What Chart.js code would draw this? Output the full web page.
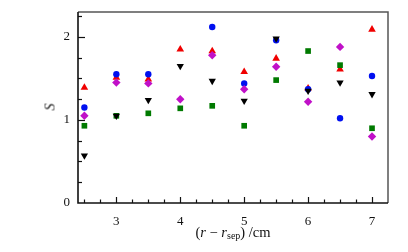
<!DOCTYPE html>
<html>
<head>
<meta charset="utf-8">
<script src="https://cdn.jsdelivr.net/npm/chart.js@4"></script>
<style>
    html, body { margin: 0; padding: 0; background: #fff; }
    #wrap { position: relative; width: 408px; height: 252px; }
    #chart { position: absolute; left: 0; top: 0; }
    .axis-title { position: absolute; font-family: 'Liberation Serif', 'DejaVu Serif', serif; color: #111; white-space: nowrap; }
    #xTitle { left: 0; width: 466px; top: 224px; text-align: center; font-size: 14.5px; }
    #xTitle sub { font-size: 10px; vertical-align: -2px; }
    #yTitle { left: 47px; top: 99px; font-size: 14px; font-style: italic; transform: rotate(-90deg); }
</style>
</head>
<body>
<div id="wrap">
    <canvas id="chart" width="408" height="252"></canvas>
    <div class="axis-title" id="xTitle">(<i>r</i> &minus; <i>r</i><sub>sep</sub>) /cm</div>
    <div class="axis-title" id="yTitle">S</div>
</div>
<script>
// positions along the probe, cm
const positions = [2.5, 3, 3.5, 4, 4.5, 5, 5.5, 6, 6.5, 7];

// S values per series
const blueCircles   = [1.15, 1.55, 1.55, null, 2.12, 1.44, 1.96, 1.37, 1.02, 1.53];
const redTriangles  = [1.39, 1.51, 1.49, 1.85, 1.83, 1.58, 1.74, 1.38, 1.61, 2.09];
const blackDown     = [0.57, 1.05, 1.24, 1.65, 1.47, 1.23, 1.98, 1.35, 1.45, 1.31];
const magentaDiam   = [1.05, 1.45, 1.44, 1.25, 1.78, 1.37, 1.64, 1.22, 1.88, 0.80];
const greenSquares  = [0.93, 1.05, 1.08, 1.14, 1.17, 0.93, 1.48, 1.83, 1.66, 0.90];

// tick labels
const xTicks = [3, 4, 5, 6, 7];
const yTicks = [0, 1, 2];

function toPoints(values) {
    return positions.map((x, i) => ({ x: x, y: values[i] })).filter(p => p.y !== null);
}

// inside ticks and the frame, drawn from the scales
const frameAndTicks = {
    id: 'frameAndTicks',
    beforeDatasetsDraw(chart) {
        const ctx = chart.ctx;
        const a = chart.chartArea;
        const xs = chart.scales.x;
        const ys = chart.scales.y;
        ctx.save();
        ctx.strokeStyle = '#111';
        ctx.lineWidth = 1.2;
        for (let v = 2.5; v <= 7.001; v += 0.25) {
            const px = Math.round(xs.getPixelForValue(v)) + 0.5;
            const len = Math.abs(v - Math.round(v)) < 1e-6 ? 6 : 3.5;
            ctx.beginPath();
            ctx.moveTo(px, a.bottom);
            ctx.lineTo(px, a.bottom - len);
            ctx.stroke();
        }
        for (let v = 0.25; v <= 2.251; v += 0.25) {
            const py = Math.round(ys.getPixelForValue(v)) + 0.5;
            const len = Math.abs(v - Math.round(v)) < 1e-6 ? 7 : 4;
            ctx.beginPath();
            ctx.moveTo(a.left, py);
            ctx.lineTo(a.left + len, py);
            ctx.stroke();
        }
        // top and right edges, grey
        ctx.strokeStyle = '#555';
        ctx.lineWidth = 1.5;
        ctx.beginPath();
        ctx.moveTo(a.left, a.top);
        ctx.lineTo(a.right, a.top);
        ctx.lineTo(a.right, a.bottom);
        ctx.stroke();
        // left and bottom axes, black
        ctx.strokeStyle = '#111';
        ctx.lineWidth = 1.6;
        ctx.beginPath();
        ctx.moveTo(a.left, a.top);
        ctx.lineTo(a.left, a.bottom);
        ctx.lineTo(a.right, a.bottom);
        ctx.stroke();
        ctx.restore();
    }
};

const tickFont = { family: "'Liberation Serif', 'DejaVu Serif', serif", size: 13 };

new Chart(document.getElementById('chart').getContext('2d'), {
    type: 'scatter',
    data: {
        datasets: [
            {
                label: 'black',
                data: toPoints(blackDown),
                pointStyle: 'triangle',
                rotation: 180,
                pointRadius: 4.2,
                backgroundColor: '#000',
                borderColor: '#000',
                borderWidth: 0
            },
            {
                label: 'magenta',
                data: toPoints(magentaDiam),
                pointStyle: 'rectRot',
                pointRadius: 4.2,
                backgroundColor: '#c010c8',
                borderColor: '#c010c8',
                borderWidth: 0
            },
            {
                label: 'blue',
                data: toPoints(blueCircles),
                pointStyle: 'circle',
                pointRadius: 3.2,
                backgroundColor: '#0010f0',
                borderColor: '#0010f0',
                borderWidth: 0
            },
            {
                label: 'green',
                data: toPoints(greenSquares),
                pointStyle: 'rect',
                pointRadius: 4,
                backgroundColor: '#007a00',
                borderColor: '#007a00',
                borderWidth: 0
            },
            {
                label: 'red',
                data: toPoints(redTriangles),
                pointStyle: 'triangle',
                pointRadius: 4.4,
                backgroundColor: '#f00000',
                borderColor: '#f00000',
                borderWidth: 0
            }
        ]
    },
    options: {
        responsive: false,
        animation: false,
        events: [],
        layout: { padding: { left: 0, right: 20, top: 12, bottom: 0 } },
        plugins: {
            legend: { display: false },
            tooltip: { enabled: false }
        },
        scales: {
            x: {
                type: 'linear',
                min: 2.4,
                max: 7.25,
                grid: { display: false },
                border: { display: false },
                afterBuildTicks: scale => { scale.ticks = xTicks.map(v => ({ value: v })); },
                afterFit: scale => { scale.height = 49; },
                ticks: { color: '#111', font: tickFont, padding: 3, maxRotation: 0 }
            },
            y: {
                type: 'linear',
                min: 0,
                max: 2.3,
                grid: { display: false },
                border: { display: false },
                afterBuildTicks: scale => { scale.ticks = yTicks.map(v => ({ value: v })); },
                afterFit: scale => { scale.width = 78; },
                ticks: { color: '#111', font: tickFont, padding: 0 }
            }
        }
    },
    plugins: [frameAndTicks]
});
</script>
</body>
</html>
